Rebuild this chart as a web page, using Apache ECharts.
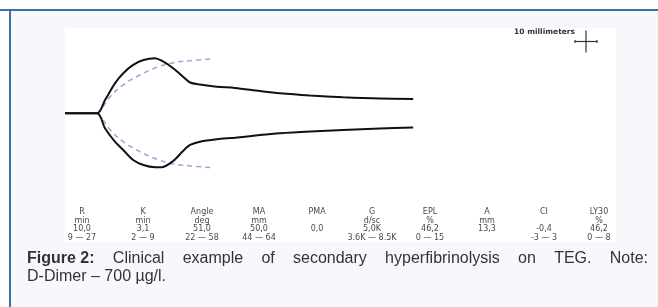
<!DOCTYPE html>
<html>
<head>
<meta charset="utf-8">
<script src="https://cdn.jsdelivr.net/npm/echarts/dist/echarts.min.js"></script>
<style>
html,body{margin:0;padding:0;background:#ffffff;}
#chart{width:658px;height:307px;}
</style>
</head>
<body>
<div id="chart"></div>
<script>
// TEG trace (time in minutes, half-amplitude in mm)
const timeMin  = [0, 10, 12.5, 15.6, 18.2, 21.3, 24.5, 28.1, 30.2, 33.8, 36.9, 39.1, 42.2, 47.4, 53.1, 60.9, 67.2, 76.6, 86.9, 98.4, 108.8];
const upperAmp = [0, 0, 6.0, 13.6, 18.2, 22.0, 24.2, 25.0, 23.9, 20.5, 16.6, 14.0, 13.1, 12.1, 11.5, 10.1, 9.1, 8.1, 7.3, 6.7, 6.5];
const lowerAmp = [0, 0, 6.8, 12.9, 16.7, 21.2, 23.5, 24.5, 24.5, 21.7, 17.1, 14.4, 12.9, 11.8, 11.1, 9.9, 9.1, 8.3, 7.6, 6.9, 6.5];
// reference (normal) trace, dashed
const refTime = [10, 11.5, 14.1, 18.2, 23.4, 28.7, 33.8, 39.1, 45.8];
const refAmp  = [0, 2.3, 7.5, 12.9, 17.4, 20.9, 23.0, 23.9, 24.7];

// parameter table
const paramNames  = ['R', 'K', 'Angle', 'MA', 'PMA', 'G', 'EPL', 'A', 'CI', 'LY30'];
const paramUnits  = ['min', 'min', 'deg', 'mm', '', 'd/sc', '%', 'mm', '', '%'];
const paramValues = ['10,0', '3,1', '51,0', '50,0', '0,0', '5,0K', '46,2', '13,3', '-0,4', '46,2'];
const paramRanges = ['9 — 27', '2 — 9', '22 — 58', '44 — 64', '', '3.6K — 8.5K', '0 — 15', '', '-3 — 3', '0 — 8'];

const scaleLabel = '10 millimeters';
const scaleMm = 10;
const captionBold = 'Figure 2:';
const captionLine1 = 'Clinical example of secondary hyperfibrinolysis on TEG. Note:';
const captionLine2 = 'D-Dimer – 700 µg/l.';

const chart = echarts.init(document.getElementById('chart'), null, {renderer: 'canvas'});

const up = timeMin.map((t, i) => [t, upperAmp[i]]);
const lo = timeMin.map((t, i) => [t, -lowerAmp[i]]);
const rUp = refTime.map((t, i) => [t, refAmp[i]]);
const rLo = refTime.map((t, i) => [t, -refAmp[i]]);

// layout
const colX = [82, 143, 202, 259, 317, 372, 430, 487, 544, 599];
const rowY = [212, 220.5, 229, 237.5];
const tableFont = '8px "DejaVu Sans"';
const tableColor = '#4a4a4a';

const graphics = [];
// frame
graphics.push({type: 'rect', shape: {x: 10, y: 10, width: 648, height: 297}, style: {fill: '#f6f8fb'}, z: -30});
graphics.push({type: 'rect', shape: {x: 0, y: 9, width: 658, height: 2}, style: {fill: '#3d6ea8'}, z: -20});
graphics.push({type: 'rect', shape: {x: 9, y: 9, width: 2, height: 298}, style: {fill: '#3d6ea8'}, z: -20});
graphics.push({type: 'rect', shape: {x: 65, y: 28, width: 551, height: 214}, style: {fill: '#ffffff'}, z: -10});

// table
const rows = [paramNames, paramUnits, paramValues, paramRanges];
rows.forEach((row, r) => {
  row.forEach((txt, c) => {
    if (!txt) return;
    graphics.push({type: 'text', x: colX[c], y: rowY[r], z: 5,
      style: {text: txt, font: tableFont, fill: tableColor, align: 'center', verticalAlign: 'middle'}});
  });
});

// caption, justified first line
const cv = document.createElement('canvas').getContext('2d');
const fontN = '16px "Liberation Sans", Arial, sans-serif';
const fontB = 'bold 16px "Liberation Sans", Arial, sans-serif';
const words = [{t: captionBold, f: fontB}].concat(captionLine1.split(' ').map(w => ({t: w, f: fontN})));
const leftX = 27, rightX = 648;
let total = 0;
words.forEach(w => { cv.font = w.f; w.w = cv.measureText(w.t).width; total += w.w; });
const gap = (rightX - leftX - total) / (words.length - 1);
let cx = leftX;
words.forEach(w => {
  graphics.push({type: 'text', x: cx, y: 259, z: 5,
    style: {text: w.t, font: w.f, fill: '#333333', align: 'left', verticalAlign: 'middle'}});
  cx += w.w + gap;
});
graphics.push({type: 'text', x: leftX, y: 277, z: 5,
  style: {text: captionLine2, font: fontN, fill: '#333333', align: 'left', verticalAlign: 'middle'}});

// scale label
graphics.push({type: 'text', x: 575, y: 32, z: 5,
  style: {text: scaleLabel, font: 'bold 7.5px "DejaVu Sans"', fill: '#333', align: 'right', verticalAlign: 'middle'}});

const lineStyleBlack = {color: '#111111', width: 2};
const dashStyle = {color: '#a79fd8', width: 1.5, type: [5, 4]};

chart.setOption({
  animation: false,
  backgroundColor: 'transparent',
  grid: {left: 65, top: 25.3, width: 550.4, height: 176, containLabel: false},
  xAxis: {type: 'value', min: 0, max: 172, show: false},
  yAxis: {type: 'value', min: -40, max: 40, show: false},
  graphic: graphics,
  series: [
    {type: 'line', data: rUp, smooth: 0.4, symbol: 'none', lineStyle: dashStyle, z: 2},
    {type: 'line', data: rLo, smooth: 0.4, symbol: 'none', lineStyle: dashStyle, z: 2},
    {type: 'line', data: up, smooth: 0.3, symbol: 'none', lineStyle: lineStyleBlack, z: 3},
    {type: 'line', data: lo, smooth: 0.3, symbol: 'none', lineStyle: lineStyleBlack, z: 3}
  ]
});

// scale cross sized from the amplitude axis
const pxPerScale = Math.abs(chart.convertToPixel({yAxisIndex: 0}, 0) - chart.convertToPixel({yAxisIndex: 0}, scaleMm));
const cxS = 586, cyS = 41.5, h = pxPerScale / 2;
const crossStyle = {stroke: '#333', lineWidth: 1.2};
graphics.push({type: 'line', z: 5, shape: {x1: cxS, y1: cyS - h, x2: cxS, y2: cyS + h}, style: crossStyle});
graphics.push({type: 'line', z: 5, shape: {x1: cxS - h, y1: cyS, x2: cxS + h, y2: cyS}, style: crossStyle});
graphics.push({type: 'line', z: 5, shape: {x1: cxS - h, y1: cyS - 1.5, x2: cxS - h, y2: cyS + 1.5}, style: crossStyle});
graphics.push({type: 'line', z: 5, shape: {x1: cxS + h, y1: cyS - 1.5, x2: cxS + h, y2: cyS + 1.5}, style: crossStyle});
chart.setOption({graphic: graphics}, {replaceMerge: ['graphic']});
</script>
</body>
</html>
